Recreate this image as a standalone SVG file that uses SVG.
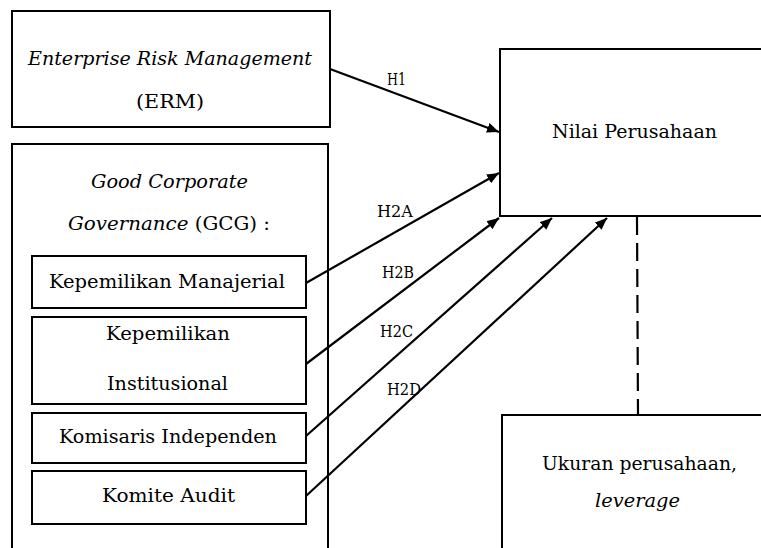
<svg xmlns="http://www.w3.org/2000/svg" width="761" height="548" viewBox="0 0 761 548">
<style>
.box{fill:#fff;stroke:#000;stroke-width:2}
.t{font-family:'DejaVu Serif',serif;font-size:19px;fill:#000}
.i{font-style:italic}
.h{font-family:'DejaVu Serif',serif;font-size:17px;fill:#000}
.c{stroke:#000;stroke-width:2.2;fill:none}
</style>
<defs>
<marker id="ah" viewBox="0 0 12 10" refX="12" refY="5" markerWidth="12" markerHeight="10" markerUnits="userSpaceOnUse" orient="auto">
<path d="M0,0 L12,5 L0,10 Z" fill="#000"/>
</marker>
</defs>
<rect width="761" height="548" fill="#fff"/>
<g id="erm">
<rect class="box" x="12" y="11" width="318" height="116"/>
<text class="t i" x="28" y="65" textLength="284" lengthAdjust="spacingAndGlyphs">Enterprise Risk Management</text>
<text class="t" x="136" y="108" textLength="68" lengthAdjust="spacingAndGlyphs">(ERM)</text>
</g>
<g id="gcg">
<rect class="box" x="12" y="144" width="316" height="420"/>
<text class="t i" x="91" y="188" textLength="157" lengthAdjust="spacingAndGlyphs">Good Corporate</text>
<text class="t" x="68" y="230" textLength="202" lengthAdjust="spacingAndGlyphs"><tspan class="i">Governance</tspan> (GCG) :</text>
</g>
<g id="km">
<rect class="box" x="32" y="256" width="274" height="52"/>
<text class="t" x="49" y="288" textLength="236" lengthAdjust="spacingAndGlyphs">Kepemilikan Manajerial</text>
</g>
<g id="ki">
<rect class="box" x="32" y="317" width="274" height="87"/>
<text class="t" x="106" y="340" textLength="124" lengthAdjust="spacingAndGlyphs">Kepemilikan</text>
<text class="t" x="107" y="390" textLength="121" lengthAdjust="spacingAndGlyphs">Institusional</text>
</g>
<g id="kin">
<rect class="box" x="32" y="413" width="274" height="50"/>
<text class="t" x="59" y="443" textLength="218" lengthAdjust="spacingAndGlyphs">Komisaris Independen</text>
</g>
<g id="ka">
<rect class="box" x="32" y="471" width="274" height="53"/>
<text class="t" x="102" y="502" textLength="133" lengthAdjust="spacingAndGlyphs">Komite Audit</text>
</g>
<g id="nilai">
<rect class="box" x="500" y="49" width="280" height="167"/>
<text class="t" x="552" y="138" textLength="165" lengthAdjust="spacingAndGlyphs">Nilai Perusahaan</text>
</g>
<g id="ukuran">
<rect class="box" x="502" y="415" width="280" height="160"/>
<text class="t" x="542" y="470" textLength="195" lengthAdjust="spacingAndGlyphs">Ukuran perusahaan,</text>
<text class="t i" x="595" y="507" textLength="85" lengthAdjust="spacingAndGlyphs">leverage</text>
</g>
<g id="connectors">
<line class="c" x1="330" y1="69" x2="499" y2="132" marker-end="url(#ah)"/>
<line class="c" x1="306" y1="283" x2="499" y2="173" marker-end="url(#ah)"/>
<line class="c" x1="306" y1="364" x2="499" y2="218" marker-end="url(#ah)"/>
<line class="c" x1="306" y1="436" x2="552" y2="218" marker-end="url(#ah)"/>
<line class="c" x1="306" y1="496" x2="607" y2="218" marker-end="url(#ah)"/>
<line class="c" x1="637" y1="217" x2="638" y2="415" stroke-dasharray="18,8"/>
<text class="h" x="387" y="85" textLength="19" lengthAdjust="spacingAndGlyphs">H1</text>
<text class="h" x="377" y="217" textLength="36" lengthAdjust="spacingAndGlyphs">H2A</text>
<text class="h" x="382" y="278" textLength="32" lengthAdjust="spacingAndGlyphs">H2B</text>
<text class="h" x="380" y="337" textLength="33" lengthAdjust="spacingAndGlyphs">H2C</text>
<text class="h" x="387" y="395" textLength="34" lengthAdjust="spacingAndGlyphs">H2D</text>
</g>
</svg>
